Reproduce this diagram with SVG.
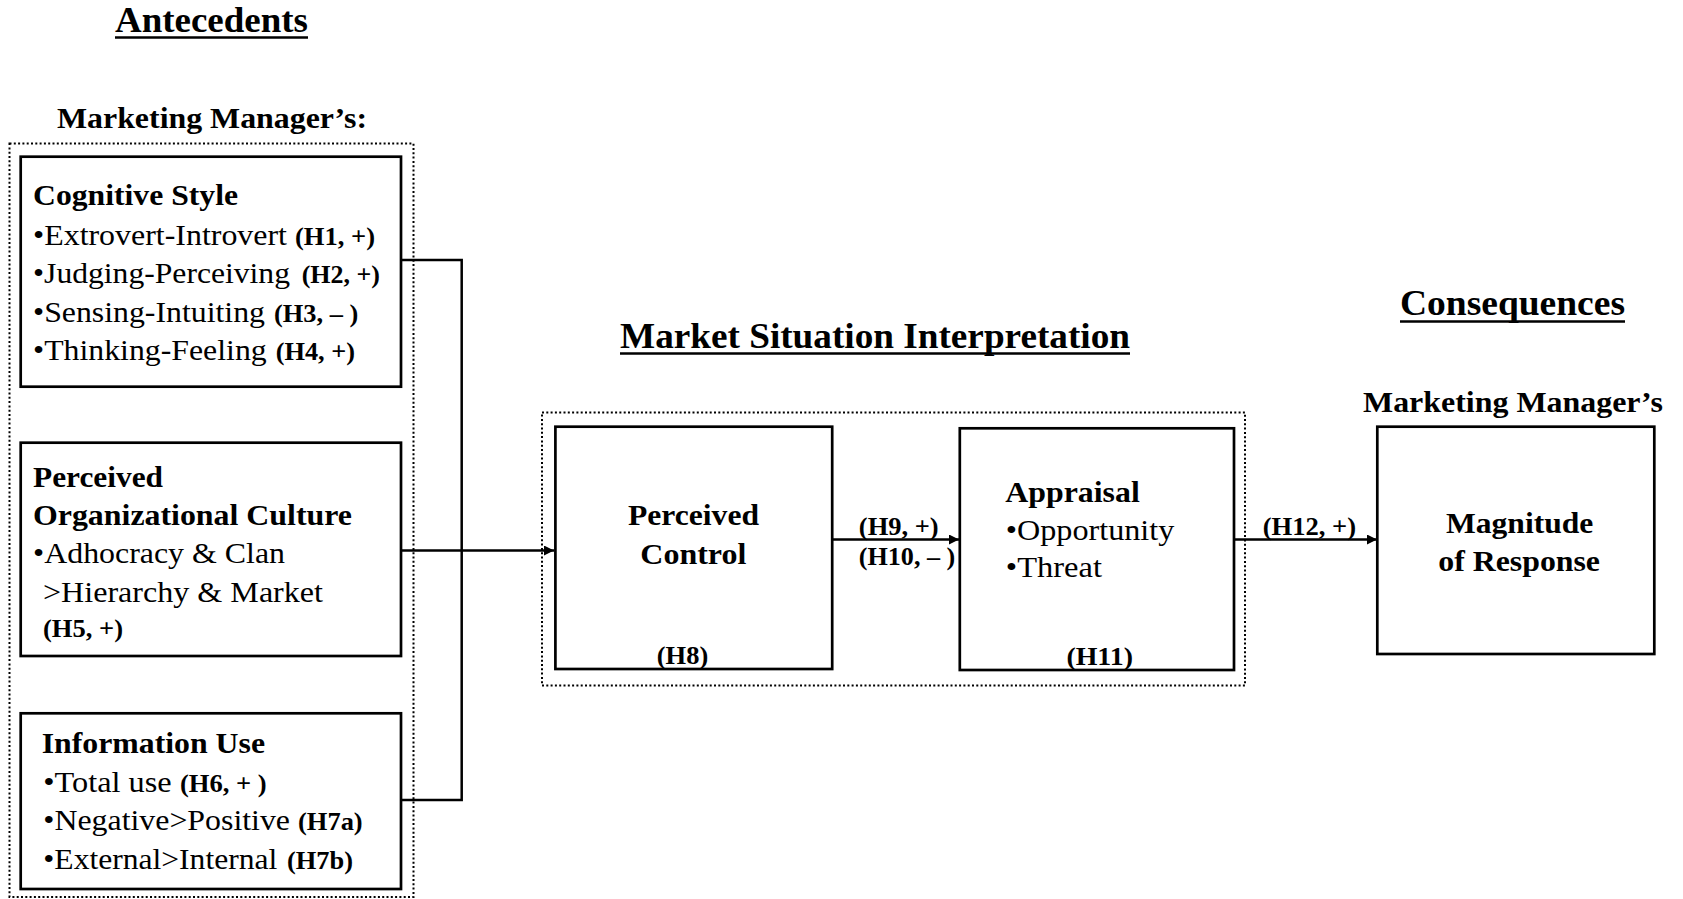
<svg xmlns="http://www.w3.org/2000/svg" width="1683" height="899" viewBox="0 0 1683 899">
<style>
text{font-family:"Liberation Serif","Times New Roman",serif;fill:#000}
.h{font-size:36px;font-weight:bold}
.s{font-size:30px;font-weight:bold}
.r{font-size:30px}
.l{font-size:25px;font-weight:bold}
.m{font-size:30px;font-weight:bold}
.box{fill:#fff;stroke:#000;stroke-width:2.7}
.dot{fill:none;stroke:#000;stroke-width:2;stroke-dasharray:2 2.3}
.con{fill:none;stroke:#000;stroke-width:2.5}
.ul{stroke:#000;stroke-width:2.5}
</style>
<defs>
<marker id="arr" viewBox="0 0 10 10" refX="10" refY="5" markerWidth="10" markerHeight="10" markerUnits="userSpaceOnUse" orient="auto">
<path d="M0,0 L10,5 L0,10 Z" fill="#000"/>
</marker>
</defs>
<rect width="1683" height="899" fill="#fff"/>

<g id="titles">
<text class="h" x="115" y="32" textLength="193" lengthAdjust="spacingAndGlyphs">Antecedents</text>
<line class="ul" x1="115" y1="37.5" x2="308" y2="37.5"/>
<text class="h" x="620" y="348" textLength="510" lengthAdjust="spacingAndGlyphs">Market Situation Interpretation</text>
<line class="ul" x1="620" y1="353.5" x2="1130" y2="353.5"/>
<text class="h" x="1400" y="315" textLength="225" lengthAdjust="spacingAndGlyphs">Consequences</text>
<line class="ul" x1="1400" y1="321.5" x2="1625" y2="321.5"/>
<text class="s" x="57" y="128" textLength="310" lengthAdjust="spacingAndGlyphs">Marketing Manager’s:</text>
<text class="s" x="1363" y="411.5" textLength="300" lengthAdjust="spacingAndGlyphs">Marketing Manager’s</text>
</g>

<g id="antecedents-group">
<rect class="dot" x="9.5" y="143.5" width="404" height="753.5"/>
</g>

<g id="interpretation-group">
<rect class="dot" x="542" y="412.5" width="703" height="273"/>
</g>

<g id="connectors">
<polyline class="con" points="401,260 461.7,260 461.7,800 401,800"/>
<line class="con" x1="401" y1="550.5" x2="554" y2="550.5" marker-end="url(#arr)"/>
<line class="con" x1="832" y1="539.5" x2="959" y2="539.5" marker-end="url(#arr)"/>
<line class="con" x1="1234" y1="539.5" x2="1377" y2="539.5" marker-end="url(#arr)"/>
</g>

<g id="cognitive-style">
<rect class="box" x="20.7" y="156.7" width="380.3" height="230"/>
<text class="s" x="33" y="205" textLength="205" lengthAdjust="spacingAndGlyphs">Cognitive Style</text>
<text class="r" x="33" y="245" textLength="254" lengthAdjust="spacingAndGlyphs">•Extrovert-Introvert</text>
<text class="l" x="295" y="245" textLength="80" lengthAdjust="spacingAndGlyphs">(H1, +)</text>
<text class="r" x="33" y="283.3" textLength="257" lengthAdjust="spacingAndGlyphs">•Judging-Perceiving</text>
<text class="l" x="301.7" y="283.3" textLength="78.3" lengthAdjust="spacingAndGlyphs">(H2, +)</text>
<text class="r" x="33" y="321.7" textLength="232" lengthAdjust="spacingAndGlyphs">•Sensing-Intuiting</text>
<text class="l" x="274" y="321.7" textLength="84.3" lengthAdjust="spacingAndGlyphs">(H3, – )</text>
<text class="r" x="33" y="360" textLength="233.7" lengthAdjust="spacingAndGlyphs">•Thinking-Feeling</text>
<text class="l" x="275.7" y="360" textLength="79.3" lengthAdjust="spacingAndGlyphs">(H4, +)</text>
</g>

<g id="organizational-culture">
<rect class="box" x="20.7" y="442.7" width="380.3" height="213.3"/>
<text class="s" x="33" y="487" textLength="130" lengthAdjust="spacingAndGlyphs">Perceived</text>
<text class="s" x="33" y="525" textLength="319" lengthAdjust="spacingAndGlyphs">Organizational Culture</text>
<text class="r" x="33" y="563.3" textLength="252" lengthAdjust="spacingAndGlyphs">•Adhocracy &amp; Clan</text>
<text class="r" x="43" y="601.7" textLength="280" lengthAdjust="spacingAndGlyphs">&gt;Hierarchy &amp; Market</text>
<text class="l" x="43" y="636.7" textLength="80" lengthAdjust="spacingAndGlyphs">(H5, +)</text>
</g>

<g id="information-use">
<rect class="box" x="20.7" y="713.3" width="380.3" height="175.7"/>
<text class="s" x="41.7" y="753.3" textLength="223.3" lengthAdjust="spacingAndGlyphs">Information Use</text>
<text class="r" x="43.3" y="791.7" textLength="128.4" lengthAdjust="spacingAndGlyphs">•Total use</text>
<text class="l" x="180" y="791.7" textLength="86.7" lengthAdjust="spacingAndGlyphs">(H6, + )</text>
<text class="r" x="43.3" y="830" textLength="246.7" lengthAdjust="spacingAndGlyphs">•Negative&gt;Positive</text>
<text class="l" x="298" y="830" textLength="64.7" lengthAdjust="spacingAndGlyphs">(H7a)</text>
<text class="r" x="43.3" y="869" textLength="234" lengthAdjust="spacingAndGlyphs">•External&gt;Internal</text>
<text class="l" x="287" y="869" textLength="66" lengthAdjust="spacingAndGlyphs">(H7b)</text>
</g>

<g id="perceived-control">
<rect class="box" x="555.4" y="426.7" width="276.8" height="242.3"/>
<text class="m" x="628" y="525" textLength="131" lengthAdjust="spacingAndGlyphs">Perceived</text>
<text class="m" x="640.3" y="564" textLength="106" lengthAdjust="spacingAndGlyphs">Control</text>
<text class="l" x="656.8" y="664" textLength="51.4" lengthAdjust="spacingAndGlyphs">(H8)</text>
</g>

<g id="appraisal">
<rect class="box" x="959.8" y="428.3" width="274.2" height="241.7"/>
<text class="m" x="1005.3" y="502" textLength="134.5" lengthAdjust="spacingAndGlyphs">Appraisal</text>
<text class="r" x="1005.8" y="540" textLength="168.5" lengthAdjust="spacingAndGlyphs">•Opportunity</text>
<text class="r" x="1005.8" y="577" textLength="96.2" lengthAdjust="spacingAndGlyphs">•Threat</text>
<text class="l" x="1066.4" y="665" textLength="66.6" lengthAdjust="spacingAndGlyphs">(H11)</text>
</g>

<g id="magnitude-of-response">
<rect class="box" x="1377.3" y="426.7" width="277" height="227.3"/>
<text class="m" x="1446" y="533" textLength="147.3" lengthAdjust="spacingAndGlyphs">Magnitude</text>
<text class="m" x="1438.3" y="571" textLength="161.7" lengthAdjust="spacingAndGlyphs">of Response</text>
</g>

<g id="connector-labels">
<text class="l" x="858.8" y="535" textLength="79.9" lengthAdjust="spacingAndGlyphs">(H9, +)</text>
<text class="l" x="858.8" y="565" textLength="96.5" lengthAdjust="spacingAndGlyphs">(H10, – )</text>
<text class="l" x="1262.7" y="535" textLength="93.3" lengthAdjust="spacingAndGlyphs">(H12, +)</text>
</g>
</svg>
